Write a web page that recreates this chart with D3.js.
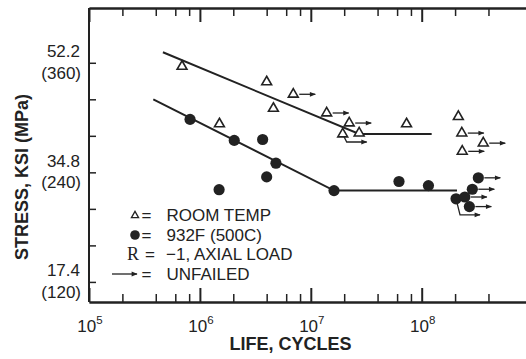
<!DOCTYPE html>
<html>
<head>
<meta charset="utf-8">
<script src="https://cdn.jsdelivr.net/npm/d3@7"></script>
<style>
  html, body { margin: 0; padding: 0; background: #fff; }
  svg { display: block; }
  text { font-family: "Liberation Sans", Arial, Helvetica, sans-serif; fill: #222; }
</style>
</head>
<body>
<svg id="chart" width="526" height="359"></svg>
<script>
// ---------- DATA ----------
// Room temperature (open triangles): life (cycles), stress (MPa), runout flag (0 none, 1 arrow, 2 bent arrow)
const rtLife   = [6.9e5, 1.5e6, 4.0e6, 4.6e6, 6.95e6, 1.39e7, 2.22e7, 1.94e7, 2.73e7, 7.3e7, 2.14e8, 2.30e8, 3.59e8, 2.32e8];
const rtStress = [356,   293,   339,   310,   325.5,  305,    294,    282,    283,    293,   301,    283,    272,    263];
const rtRunout = [0,     0,     0,     0,     1,      1,      1,      2,      0,      0,     0,      1,      1,      1];

// 932F (500C) (filled circles)
const htLife   = [8.15e5, 2.04e6, 3.68e6, 4.85e6, 4.0e6, 1.49e6, 1.62e7, 6.24e7, 1.15e8, 3.24e8, 2.86e8, 2.04e8, 2.45e8, 2.69e8];
const htStress = [298,    275,    276,    250,    235,   221,    220,    230,    225.5,  234,    221.5,  211,    213,    202.5];
const htRunout = [0,      0,      0,      0,      0,     0,      0,      0,      0,      1,      1,      2,      1,      1];

// Fitted curves (life, MPa)
const rtCurveLife   = [4.64e5, 2.73e7, 1.23e8];
const rtCurveStress = [371.5,  282,    282];
const htCurveLife   = [3.8e5,  1.62e7, 2.08e8];
const htCurveStress = [320,    220,    220];

// Axis ticks
const xMajorTicks = [1e5, 1e6, 1e7, 1e8];
const xMajorExp   = ["5", "6", "7", "8"];
const xMinorTicks = [2e5, 4e5, 6e5, 8e5, 2e6, 4e6, 6e6, 8e6, 2e7, 4e7, 6e7, 8e7, 2e8, 4e8];
const yTicks      = [120, 160, 200, 240, 280, 320, 360];
const yLabelMpa   = [120, 240, 360];
const yLabelKsi   = ["17.4", "34.8", "52.2"];

const legendLabels = ["ROOM TEMP", "932F (500C)", "\u22121, AXIAL LOAD", "UNFAILED"];
const xTitle = "LIFE, CYCLES";
const yTitle = "STRESS, KSI (MPa)";

// ---------- CHART ----------
const ink = "#222";
const svg = d3.select("#chart");
const x = d3.scaleLog().domain([1e5, 1e9]).range([89, 532.6]);
const y = d3.scaleLinear().domain([98, 420]).range([302, 8]);
const plotLeft = 89, plotTop = 8, plotBottom = 302;

// arrowhead marker
svg.append("defs").append("marker")
  .attr("id", "ah").attr("viewBox", "0 0 10 10")
  .attr("refX", 9).attr("refY", 5)
  .attr("markerWidth", 7).attr("markerHeight", 6)
  .attr("markerUnits", "userSpaceOnUse")
  .attr("orient", "auto")
  .append("path").attr("d", "M0,1 L10,5 L0,9 Z").attr("fill", ink);

// axes with inward ticks
function styleAxis(g, w) {
  g.selectAll("path.domain").attr("stroke", ink).attr("stroke-width", 2);
  g.selectAll(".tick line").attr("stroke", ink).attr("stroke-width", w);
  g.selectAll(".tick text").remove();
}
svg.append("g").attr("transform", `translate(0,${plotBottom})`)
  .call(d3.axisBottom(x).tickValues(xMinorTicks).tickSize(-8).tickSizeOuter(0))
  .call(g => styleAxis(g, 1.5));
svg.append("g").attr("transform", `translate(0,${plotBottom})`)
  .call(d3.axisBottom(x).tickValues(xMajorTicks).tickSize(-14).tickSizeOuter(0))
  .call(g => styleAxis(g, 2));
svg.append("g").attr("transform", `translate(0,${plotTop})`)
  .call(d3.axisTop(x).tickValues(xMinorTicks).tickSize(-8).tickSizeOuter(0))
  .call(g => styleAxis(g, 1.5));
svg.append("g").attr("transform", `translate(0,${plotTop})`)
  .call(d3.axisTop(x).tickValues(xMajorTicks).tickSize(-14).tickSizeOuter(0))
  .call(g => styleAxis(g, 2));
svg.append("g").attr("transform", `translate(${plotLeft},0)`)
  .call(d3.axisLeft(y).tickValues(yTicks).tickSize(-7).tickSizeOuter(0))
  .call(g => styleAxis(g, 1.5))
  .call(g => g.select("path.domain").attr("d", `M0,${plotTop}V${plotBottom}`));

// x tick labels 10^n
const xl = svg.append("g");
xMajorTicks.forEach((v, i) => {
  const t = xl.append("text").attr("x", x(v) + 1).attr("y", 331.5)
    .attr("text-anchor", "middle").attr("font-size", 17);
  t.append("tspan").text("10");
  t.append("tspan").attr("font-size", 11.5).attr("dy", -8).text(xMajorExp[i]);
});

// y tick labels (ksi over MPa)
yLabelMpa.forEach((v, i) => {
  svg.append("text").attr("x", 80).attr("y", y(v) - 5.5)
    .attr("text-anchor", "end").attr("font-size", 17).text(yLabelKsi[i]);
  svg.append("text").attr("x", 81).attr("y", y(v) + 16)
    .attr("text-anchor", "end").attr("font-size", 17).text(`(${v})`);
});

// axis titles
svg.append("text").attr("x", 290.5).attr("y", 350)
  .attr("text-anchor", "middle").attr("font-size", 18).attr("font-weight", "bold").text(xTitle);
svg.append("text").attr("transform", "translate(27.5,177) rotate(-90)")
  .attr("text-anchor", "middle").attr("font-size", 18).attr("font-weight", "bold").text(yTitle);

// fitted curves
const line = d3.line().x(d => x(d[0])).y(d => y(d[1]));
svg.append("path").datum(d3.zip(rtCurveLife, rtCurveStress)).attr("d", line)
  .attr("fill", "none").attr("stroke", ink).attr("stroke-width", 2);
svg.append("path").datum(d3.zip(htCurveLife, htCurveStress)).attr("d", line)
  .attr("fill", "none").attr("stroke", ink).attr("stroke-width", 2);

// runout arrows
function drawRunouts(life, stress, flags, bend) {
  const g = svg.append("g");
  life.forEach((v, i) => {
    const cx = x(v), cy = y(stress[i]);
    if (flags[i] === 1) {
      g.append("line").attr("x1", cx + 6).attr("y1", cy).attr("x2", cx + 22).attr("y2", cy)
        .attr("stroke", ink).attr("stroke-width", 1.3).attr("marker-end", "url(#ah)");
    } else if (flags[i] === 2) {
      g.append("path").attr("d", `M${cx},${cy}L${cx + 4},${cy + bend}H${cx + 24}`)
        .attr("fill", "none").attr("stroke", ink).attr("stroke-width", 1.3).attr("marker-end", "url(#ah)");
    }
  });
}
drawRunouts(rtLife, rtStress, rtRunout, 8);
drawRunouts(htLife, htStress, htRunout, 16);

// markers
const tri = d3.symbol(d3.symbolTriangle, 42);
svg.append("g").selectAll("path").data(d3.zip(rtLife, rtStress)).join("path")
  .attr("d", tri).attr("transform", d => `translate(${x(d[0])},${y(d[1])})`)
  .attr("fill", "#fff").attr("stroke", ink).attr("stroke-width", 1.6);
svg.append("g").selectAll("circle").data(d3.zip(htLife, htStress)).join("circle")
  .attr("cx", d => x(d[0])).attr("cy", d => y(d[1])).attr("r", 5.6).attr("fill", ink);

// legend
const lg = svg.append("g");
const rows = [220.5, 240.5, 260, 280];
lg.append("path").attr("d", d3.symbol(d3.symbolTriangle, 22)).attr("transform", `translate(135,215.5)`)
  .attr("fill", "#fff").attr("stroke", ink).attr("stroke-width", 1.3);
lg.append("circle").attr("cx", 135).attr("cy", 235).attr("r", 4.8).attr("fill", ink);
lg.append("line").attr("x1", 112).attr("y1", 274).attr("x2", 137).attr("y2", 274)
  .attr("stroke", ink).attr("stroke-width", 1.3).attr("marker-end", "url(#ah)");
[0, 1, 3].forEach(i => {
  const t = lg.append("text").attr("y", rows[i]).attr("font-size", 17);
  t.append("tspan").attr("x", 141.5).text("=");
  t.append("tspan").attr("x", 166.5).text(legendLabels[i]);
});
const t3 = lg.append("text").attr("y", rows[2]).attr("font-size", 17);
t3.append("tspan").attr("x", 127).attr("font-family", "'Liberation Serif', 'Times New Roman', serif").attr("font-size", 18).text("R");
t3.append("tspan").attr("x", 145).text("=");
t3.append("tspan").attr("x", 166).text(legendLabels[2]);
</script>
</body>
</html>
